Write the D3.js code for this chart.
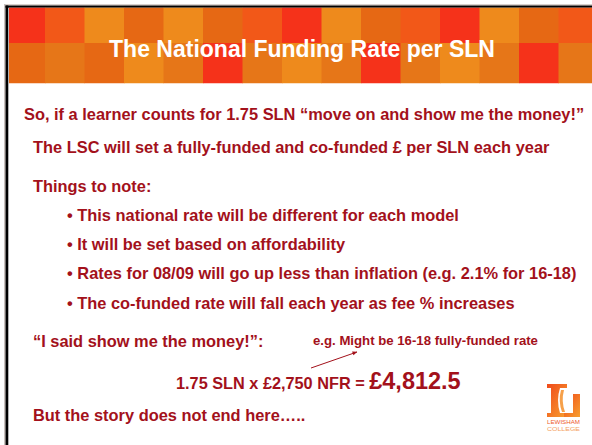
<!DOCTYPE html>
<html>
<head>
<meta charset="utf-8">
<script src="https://cdn.jsdelivr.net/npm/d3@7"></script>
<style>
  body { margin: 0; background: #fff; }
  svg { display: block; }
</style>
</head>
<body>
<div id="slide"></div>
<script>
// slide size
const W = 592, H = 445;

// --- content ---
const titleText = "The National Funding Rate per SLN";

// header mosaic, one code per tile
const palette = { R: "#f5321a", RO: "#f25818", O: "#ee8a1c", DO: "#e66814", M: "#e67618" };
const tilesTop    = ["R", "RO", "O", "DO", "O", "DO", "RO", "R", "O", "DO", "RO", "R", "O", "DO", "RO"];
const tilesBottom = ["DO", "M", "DO", "O", "M", "R", "M", "O", "M", "R", "M", "O", "M", "R", "M"];

const bodyLines = [
  "So, if a learner counts for 1.75 SLN \u201cmove on and show me the money!\u201d",
  "The LSC will set a fully-funded and co-funded \u00a3 per SLN each year",
  "Things to note:",
  "This national rate will be different for each model",
  "It will be set based on affordability",
  "Rates for 08/09 will go up less than inflation (e.g. 2.1% for 16-18)",
  "The co-funded rate will fall each year as fee % increases",
  "\u201cI said show me the money!\u201d:"
];
const bodyKinds = ["lead", "body", "body", "bullet", "bullet", "bullet", "bullet", "body"];

const noteText = "e.g. Might be 16-18 fully-funded rate";
const sumParts = ["1.75 SLN x \u00a32,750 NFR = ", "\u00a34,812.5"];
const closingText = "But the story does not end here\u2026..";
const logoWords = ["LEWISHAM", "COLLEGE"];

// --- layout ---
const red = "#a3111b";
const font = "'Liberation Sans', Arial, Helvetica, sans-serif";
const lineBase = [120, 153, 192, 221, 250, 279, 309, 347];
const kindX = { lead: 24, body: 33, bullet: 67 };

const svg = d3.select("#slide").append("svg")
  .attr("width", W).attr("height", H)
  .attr("font-family", font);

svg.append("rect").attr("width", W).attr("height", H).attr("fill", "#fff");

// frame lines
svg.append("rect").attr("x", 4).attr("y", 4).attr("width", W).attr("height", 1.5).attr("fill", "#d8d0cc");
svg.append("rect").attr("x", 4).attr("y", 4).attr("width", 1.5).attr("height", H).attr("fill", "#c8c0bc");
svg.append("rect").attr("x", 5.5).attr("y", 5.5).attr("width", W).attr("height", 2.2).attr("fill", "#000");
svg.append("rect").attr("x", 5.5).attr("y", 5.5).attr("width", 2.8).attr("height", H).attr("fill", "#000");

// header tiles
const defs = svg.append("defs");
defs.append("clipPath").attr("id", "hdr")
  .append("rect").attr("x", 9).attr("y", 7.7).attr("width", W).attr("height", 75.8);

const tx = d3.scaleLinear().domain([0, 1]).range([5.5, 45]);
const ty = d3.scaleLinear().domain([0, 1]).range([3, 43]);

const tiles = [];
tilesTop.forEach((c, i) => tiles.push({ col: i, row: 0, c }));
tilesBottom.forEach((c, i) => tiles.push({ col: i, row: 1, c }));

svg.append("g").attr("clip-path", "url(#hdr)")
  .selectAll("rect").data(tiles).join("rect")
  .attr("x", d => tx(d.col))
  .attr("y", d => ty(d.row))
  .attr("width", tx(1) - tx(0) + 0.5)
  .attr("height", ty(1) - ty(0) + 0.5)
  .attr("fill", d => palette[d.c]);

svg.append("text")
  .attr("x", 302).attr("y", 57)
  .attr("text-anchor", "middle")
  .attr("font-size", 23).attr("font-weight", "bold")
  .attr("fill", "#fff")
  .text(titleText);

// body text
const body = svg.append("g").attr("fill", red).attr("font-weight", "bold").attr("font-size", 16.4);

body.selectAll("text").data(bodyLines).join("text")
  .attr("x", (d, i) => kindX[bodyKinds[i]])
  .attr("y", (d, i) => lineBase[i])
  .text((d, i) => bodyKinds[i] === "bullet" ? "\u2022 " + d : d);

// annotation + arrow
body.append("text")
  .attr("x", 313).attr("y", 345)
  .attr("font-size", 13.2)
  .text(noteText);

defs.append("marker").attr("id", "ah")
  .attr("viewBox", "0 0 10 10").attr("refX", 9).attr("refY", 5)
  .attr("markerWidth", 5).attr("markerHeight", 5).attr("orient", "auto")
  .append("path").attr("d", "M0,1 L10,5 L0,9 Z").attr("fill", red);

svg.append("line")
  .attr("x1", 311).attr("y1", 368).attr("x2", 357).attr("y2", 352)
  .attr("stroke", red).attr("stroke-width", 1)
  .attr("marker-end", "url(#ah)");

// sum line
const sum = body.append("text").attr("x", 176).attr("y", 389);
sum.append("tspan").attr("font-size", 16.3).text(sumParts[0]);
sum.append("tspan").attr("font-size", 23.5).text(sumParts[1]);

body.append("text").attr("x", 33).attr("y", 421).text(closingText);

// Lewisham College logo
const logo = svg.append("g").attr("transform", "translate(547,384)");
const lg = defs.append("linearGradient").attr("id", "lg").attr("x1", 0).attr("y1", 0).attr("x2", 1).attr("y2", 1);
lg.append("stop").attr("offset", 0).attr("stop-color", "#f04a1a");
lg.append("stop").attr("offset", 1).attr("stop-color", "#f7a030");
logo.append("path")
  .attr("d", "M0,0 H20 V4 H13 Q9,16 13,29 H17 V33 H0 V29 H4 V4 H0 Z")
  .attr("fill", "url(#lg)");
logo.append("path")
  .attr("d", "M14,6 Q11,17 15,28 H18 Q14,17 17,6 Z")
  .attr("fill", "#f6a04a");
logo.append("path")
  .attr("d", "M26,10 H33 V33 H17 V29 H26 Z")
  .attr("fill", "url(#lg)");
logo.selectAll("text").data(logoWords).join("text")
  .attr("x", 0).attr("y", (d, i) => 40 + i * 7)
  .attr("font-size", 6).attr("textLength", 33).attr("lengthAdjust", "spacingAndGlyphs")
  .attr("fill", (d, i) => i === 0 ? "#ee5a2a" : "#f4a060")
  .text(d => d);
</script>
</body>
</html>
